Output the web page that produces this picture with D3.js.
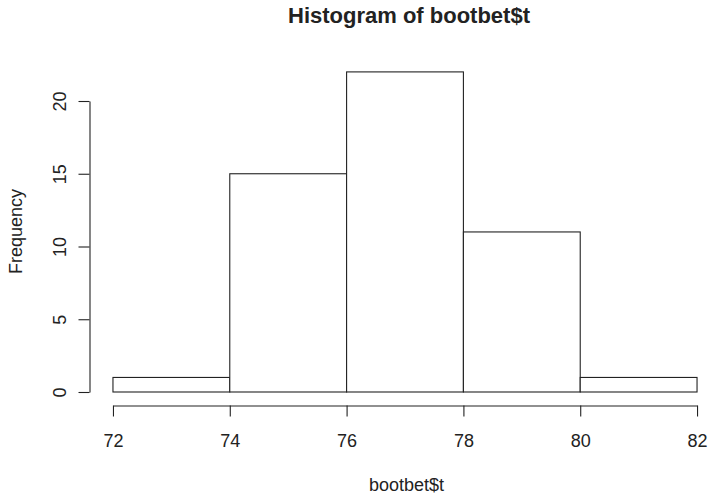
<!DOCTYPE html>
<html>
<head>
<meta charset="utf-8">
<script src="https://cdn.jsdelivr.net/npm/d3@7"></script>
<style>
  html, body { margin: 0; padding: 0; background: #fff; }
  svg { display: block; font-family: "Liberation Sans", Arial, sans-serif; }
  text { fill: #222; }
</style>
</head>
<body>
<svg id="chart" width="711" height="494"></svg>
<script>
// Histogram bins (break points) and counts per bin
const breaks = [72, 74, 76, 78, 80, 82];
const counts = [1, 15, 22, 11, 1];
const xTickValues = [72, 74, 76, 78, 80, 82];
const yTickValues = [0, 5, 10, 15, 20];
const titleText = "Histogram of bootbet$t";
const xLabel = "bootbet$t";
const yLabel = "Frequency";

const svg = d3.select("#chart");
const ink = "#222";

// Plot region with 4% padding around the data range
const xMin = 72, xMax = 82, yMax = 22;
const xPad = (xMax - xMin) * 0.04, yPad = yMax * 0.04;
const x = d3.scaleLinear().domain([xMin - xPad, xMax + xPad]).range([89.6, 720.4]);
const y = d3.scaleLinear().domain([-yPad, yMax + yPad]).range([404.8, 59.1]);

const bins = counts.map((c, i) => ({ x0: breaks[i], x1: breaks[i + 1], n: c }));

// Bars
svg.append("g")
  .selectAll("rect")
  .data(bins)
  .join("rect")
  .attr("x", d => x(d.x0))
  .attr("y", d => y(d.n))
  .attr("width", d => x(d.x1) - x(d.x0))
  .attr("height", d => y(0) - y(d.n))
  .attr("fill", "#fff")
  .attr("stroke", ink)
  .attr("stroke-width", 1.1);

// X axis: line spans the tick range only
const xAxisScale = d3.scaleLinear()
  .domain([xTickValues[0], xTickValues[xTickValues.length - 1]])
  .range([x(xTickValues[0]), x(xTickValues[xTickValues.length - 1])]);
const gx = svg.append("g")
  .attr("transform", "translate(0,405.5)")
  .call(d3.axisBottom(xAxisScale).tickValues(xTickValues).tickSize(11).tickSizeOuter(0).tickPadding(18));
gx.select(".domain").attr("stroke", ink).attr("stroke-width", 1.1);
gx.selectAll(".tick line").attr("stroke", ink).attr("stroke-width", 1.1);
gx.selectAll(".tick text")
  .attr("font-size", 18)
  .attr("font-family", "Liberation Sans, Arial, sans-serif")
  .attr("fill", ink)
  .attr("dy", 0)
  .attr("y", 41.5);

// Y axis: line spans the tick range only, labels rotated
const yAxisScale = d3.scaleLinear()
  .domain([yTickValues[0], yTickValues[yTickValues.length - 1]])
  .range([y(yTickValues[0]), y(yTickValues[yTickValues.length - 1])]);
const gy = svg.append("g")
  .attr("transform", "translate(89.5,0)")
  .call(d3.axisLeft(yAxisScale).tickValues(yTickValues).tickSize(11).tickSizeOuter(0));
gy.select(".domain").attr("stroke", ink).attr("stroke-width", 1.1);
gy.selectAll(".tick line").attr("stroke", ink).attr("stroke-width", 1.1);
gy.selectAll(".tick text")
  .attr("font-size", 18)
  .attr("font-family", "Liberation Sans, Arial, sans-serif")
  .attr("fill", ink)
  .attr("x", null).attr("dy", null)
  .attr("text-anchor", "middle")
  .attr("transform", "translate(-24,0) rotate(-90)");

// Title and axis labels
svg.append("text")
  .attr("x", 409).attr("y", 22.5)
  .attr("text-anchor", "middle")
  .attr("font-size", 22).attr("font-weight", "bold")
  .text(titleText);

svg.append("text")
  .attr("x", 406.5).attr("y", 490.5)
  .attr("text-anchor", "middle")
  .attr("font-size", 18)
  .text(xLabel);

svg.append("text")
  .attr("transform", `translate(22,${(y(0) + y(20)) / 2 - 15}) rotate(-90)`)
  .attr("text-anchor", "middle")
  .attr("font-size", 18)
  .text(yLabel);
</script>
</body>
</html>
